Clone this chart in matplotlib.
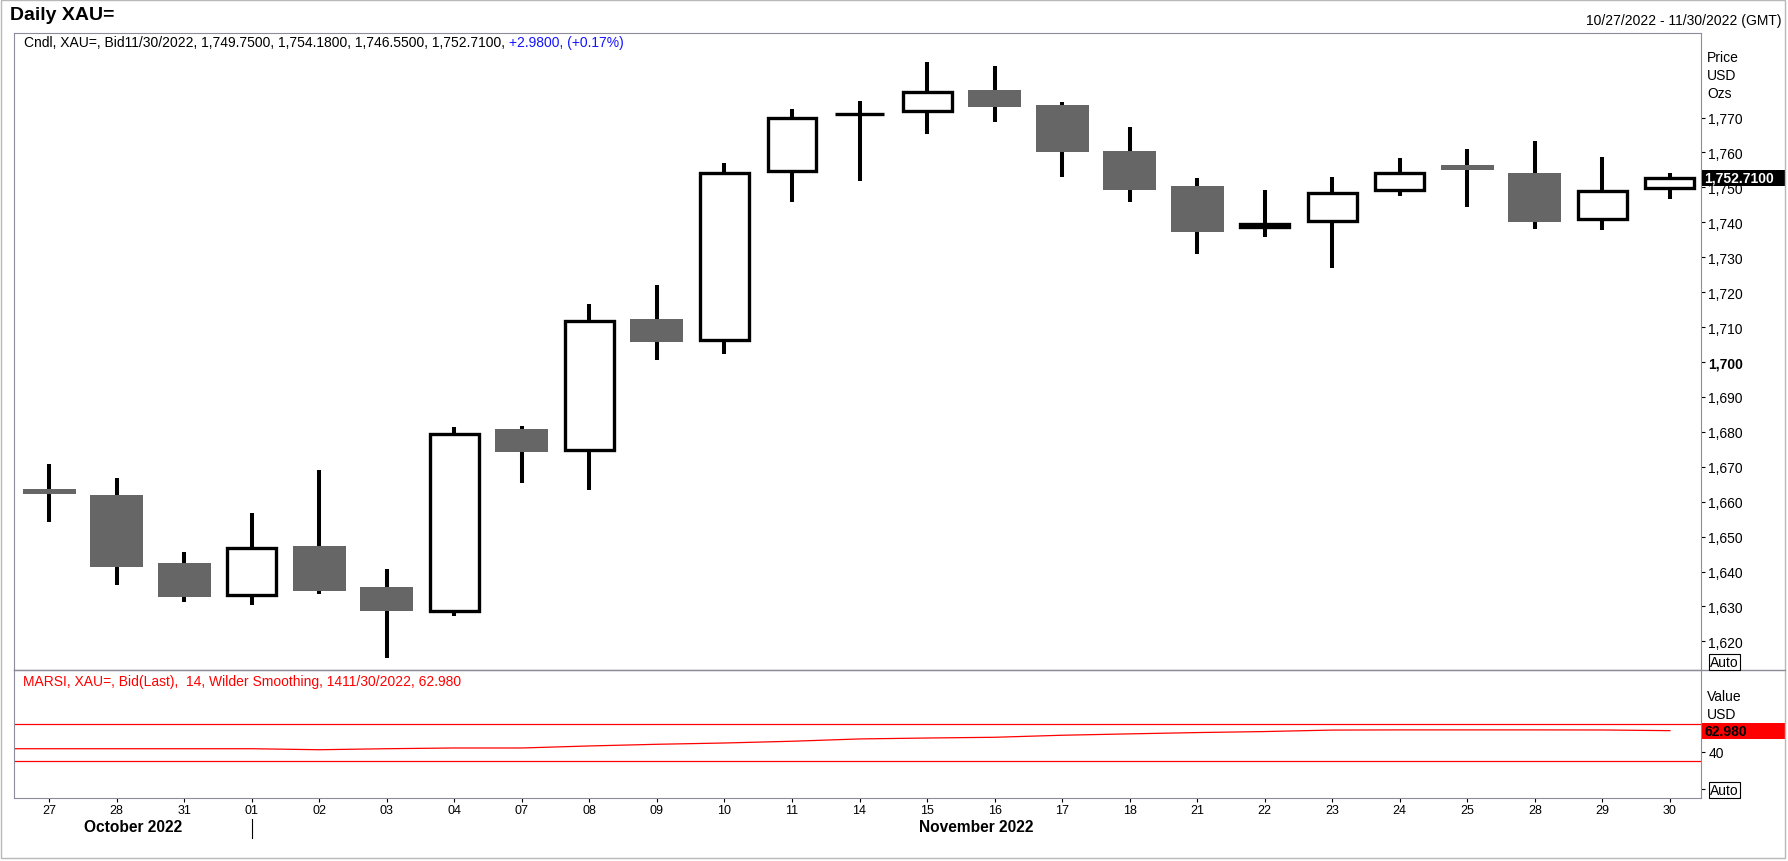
import matplotlib
matplotlib.use("Agg")
import matplotlib.pyplot as plt
from matplotlib import transforms
from matplotlib.lines import Line2D
from matplotlib.patches import Rectangle

plt.rcParams["font.family"] = ["Liberation Sans", "DejaVu Sans"]

# daily candles, 10/27/2022 - 11/30/2022
days = ["27", "28", "31", "01", "02", "03", "04", "07", "08", "09", "10", "11", "14",
        "15", "16", "17", "18", "21", "22", "23", "24", "25", "28", "29", "30"]
opens = [1663.6, 1661.9, 1642.4, 1633.4, 1647.3, 1635.6, 1628.8, 1680.8, 1674.8, 1712.3,
         1706.3, 1754.7, 1771.1, 1771.9, 1777.9, 1773.6, 1760.4, 1750.4, 1738.6, 1740.5,
         1749.3, 1756.4, 1754.2, 1741.0, 1749.75]
highs = [1670.8, 1666.8, 1645.6, 1656.8, 1669.1, 1640.7, 1681.4, 1681.7, 1716.6, 1722.0,
         1757.0, 1772.4, 1774.7, 1785.9, 1784.8, 1774.4, 1767.3, 1752.7, 1749.2, 1752.9,
         1758.3, 1761.0, 1763.3, 1758.7, 1754.18]
lows = [1654.3, 1636.2, 1631.4, 1630.5, 1633.6, 1615.3, 1627.3, 1665.4, 1663.4, 1700.7,
        1702.4, 1745.8, 1751.8, 1765.3, 1768.7, 1753.1, 1745.8, 1730.9, 1735.7, 1727.0,
        1747.6, 1744.5, 1738.2, 1737.9, 1746.55]
closes = [1662.3, 1641.4, 1632.8, 1646.8, 1634.5, 1628.8, 1679.4, 1674.3, 1711.7, 1705.8,
          1754.0, 1770.0, 1771.1, 1777.4, 1773.0, 1760.1, 1749.2, 1737.3, 1739.6, 1748.5,
          1754.2, 1755.1, 1740.2, 1749.0, 1752.71]

# RSI(14), first value is 10/26 (comes in from the left edge)
rsi = [43.4, 43.4, 43.4, 43.4, 43.4, 42.3, 43.4, 44.2, 44.2, 46.4, 48.2, 49.6, 51.5,
       54.0, 55.0, 55.8, 58.0, 59.5, 60.9, 62.0, 63.6, 63.8, 63.8, 63.8, 63.7, 62.98]
rsi_levels = [70, 30]
price_ticks = list(range(1620, 1780, 10))
months = [("October 2022", 1.24), ("November 2022", 13.73)]
month_break = 3

W, H = 1788, 862
fig = plt.figure(figsize=(W / 100, H / 100), dpi=100)


def fx(px):
    return px / W


def fy(py):
    return 1 - py / H


frame_col = "#8c8c9a"
grey = "#666666"

ax = fig.add_axes([fx(14), fy(671), fx(1701) - fx(14), fy(34) - fy(671)])
ax_rsi = fig.add_axes([fx(14), fy(799), fx(1701) - fx(14), fy(671) - fy(799)], sharex=ax)

x = list(range(len(days)))
up = [i for i in x if closes[i] >= opens[i]]
dn = [i for i in x if closes[i] < opens[i]]

ax.vlines(x, lows, highs, color="black", linewidth=2.9, zorder=2)
ax.bar(dn, [opens[i] - closes[i] for i in dn], bottom=[closes[i] for i in dn],
       width=0.785, color=grey, linewidth=0, zorder=3)
ax.bar(up, [closes[i] - opens[i] for i in up], bottom=[opens[i] for i in up],
       width=0.725, facecolor="white", edgecolor="black", linewidth=2.4, zorder=3)

ax.set_xlim(-0.52, 24.46)
ax.set_ylim(1611.8, 1794.2)
ax.yaxis.tick_right()
ax.set_yticks(price_ticks, [f"{v:,}" for v in price_ticks])
for lab, v in zip(ax.get_yticklabels(), price_ticks):
    if v == 1700:
        lab.set_fontweight("bold")
        lab.set_fontsize(10.8)
ax.tick_params(axis="y", length=3, width=0.8, pad=2.2, labelsize=10)
ax.tick_params(axis="x", bottom=False, labelbottom=False)
for s in ax.spines.values():
    s.set_color(frame_col)

# RSI panel
xr = [i - 1 for i in range(len(rsi))]
ax_rsi.plot(xr, rsi, color="red", linewidth=0.9)
for lv in rsi_levels:
    ax_rsi.axhline(lv, color="red", linewidth=0.9)
ax_rsi.set_ylim(-10, 128.7)
ax_rsi.yaxis.tick_right()
ax_rsi.set_yticks([0, 40], ["", "40"])
ax_rsi.tick_params(axis="y", length=3, width=0.8, pad=2.2, labelsize=10)
ax_rsi.set_xticks(x, days)
ax_rsi.tick_params(axis="x", length=3, width=0.8, pad=1.5, labelsize=9)
for s in ax_rsi.spines.values():
    s.set_color(frame_col)

# separator line running across the right-hand scale
fig.add_artist(Line2D([fx(14), fx(1785)], [fy(671), fy(671)], color=frame_col, linewidth=1))
# outer border
fig.add_artist(Rectangle((fx(1), fy(859)), fx(1784), fy(1) - fy(859), fill=False,
                         edgecolor="#b8b8b8", linewidth=1))

# month labels below the dates
tr = transforms.blended_transform_factory(ax_rsi.transData, fig.transFigure)
for name, pos in months:
    fig.text(pos, fy(828), name, transform=tr, ha="center", va="center",
             fontsize=11.2, fontweight="bold")
fig.add_artist(Line2D([month_break, month_break], [fy(820), fy(839)], transform=tr,
                      color="black", linewidth=0.8))

# titles and legends
fig.text(fx(10), fy(16), "Daily XAU=", ha="left", va="center", fontsize=14, fontweight="bold")
fig.text(fx(1781), fy(21), "10/27/2022 - 11/30/2022 (GMT)", ha="right", va="center", fontsize=10)

head = fig.text(fx(24), fy(43),
                f"Cndl, XAU=, Bid11/30/2022, {opens[-1]:,.4f}, {highs[-1]:,.4f}, "
                f"{lows[-1]:,.4f}, {closes[-1]:,.4f}, ",
                ha="left", va="center", fontsize=10)
fig.canvas.draw()
bb = head.get_window_extent()
fig.text(bb.x1 / W, fy(43), "+2.9800, (+0.17%)", ha="left", va="center", fontsize=10, color="#1414ff")

fig.text(fx(23), fy(682), "MARSI, XAU=, Bid(Last),  14, Wilder Smoothing, 1411/30/2022, "
         f"{rsi[-1]:.3f}", ha="left", va="center", fontsize=10, color="red")

for txt, py in [("Price", 58), ("USD", 76), ("Ozs", 94)]:
    fig.text(fx(1707), fy(py), txt, ha="left", va="center", fontsize=10)
for txt, py in [("Value", 697), ("USD", 715)]:
    fig.text(fx(1707), fy(py), txt, ha="left", va="center", fontsize=10)

# last value boxes on the scales
ytr = ax.get_yaxis_transform()
ax.add_patch(Rectangle((1.0005, closes[-1] - 2.3), 0.0498, 4.6, transform=ytr,
                       facecolor="black", edgecolor="none", clip_on=False, zorder=5))
ax.text(1.002, closes[-1], f"{closes[-1]:,.4f}", transform=ytr, ha="left", va="center",
        color="white", fontsize=10, fontweight="bold", zorder=6, clip_on=False)

rtr = ax_rsi.get_yaxis_transform()
ax_rsi.add_patch(Rectangle((1.0005, rsi[-1] - 8.7), 0.0498, 17.4, transform=rtr,
                           facecolor="red", edgecolor="none", clip_on=False, zorder=5))
ax_rsi.text(1.002, rsi[-1], f"{rsi[-1]:.3f}", transform=rtr, ha="left", va="center",
            color="black", fontsize=10, fontweight="bold", zorder=6, clip_on=False)

for py in [663, 791]:
    fig.text(fx(1710), fy(py), "Auto", ha="left", va="center", fontsize=10,
             bbox=dict(boxstyle="square,pad=0.1", facecolor="white", edgecolor="black", linewidth=0.8))

fig.savefig("out.png", dpi=100)
